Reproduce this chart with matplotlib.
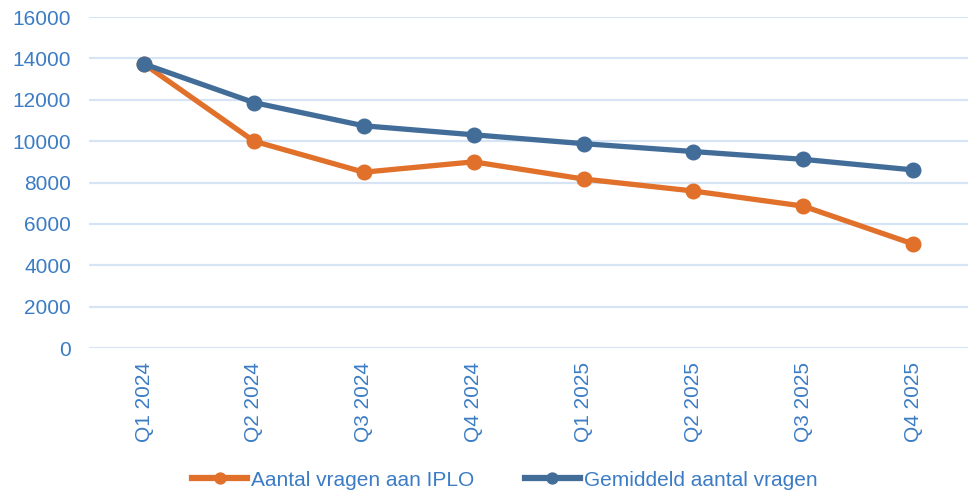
import matplotlib
matplotlib.use("Agg")
from matplotlib import pyplot as plt

quarters = ["Q1 2024", "Q2 2024", "Q3 2024", "Q4 2024",
            "Q1 2025", "Q2 2025", "Q3 2025", "Q4 2025"]
iplo_vragen = [13730, 10000, 8500, 9000, 8170, 7590, 6860, 5030]
gemiddeld = [13730, 11865, 10743, 10308, 9880, 9498, 9121, 8610]
y_ticks = [0, 2000, 4000, 6000, 8000, 10000, 12000, 14000, 16000]

orange = "#e0702a"
blue = "#436d99"
text_blue = "#3b7cc4"
grid_blue = "#d6e4f5"

plt.rcParams['font.family'] = ['Liberation Sans', 'DejaVu Sans']

fig = plt.figure(figsize=(9.69, 4.94), dpi=100)
ax = fig.add_axes([0.092, 0.2955, 0.907, 0.670])

x = range(len(quarters))
ax.plot(x, iplo_vragen, color=orange, lw=3.8, marker='o', markersize=10.5,
        label="Aantal vragen aan IPLO", zorder=3)
ax.plot(x, gemiddeld, color=blue, lw=3.8, marker='o', markersize=10.5,
        label="Gemiddeld aantal vragen", zorder=3)

ax.set_xlim(-0.5, len(quarters) - 0.5)
ax.set_ylim(0, 16000)
ax.set_yticks(y_ticks)
ax.set_yticklabels([str(v) for v in y_ticks])
ax.set_xticks(list(x))
ax.set_xticklabels(quarters, rotation=90)
ax.tick_params(axis='both', length=0, labelsize=15, labelcolor=text_blue)
ax.tick_params(axis='x', pad=10)
ax.tick_params(axis='y', pad=13)

ax.grid(axis='y', color=grid_blue, lw=1.6)
ax.set_axisbelow(True)
for s in ax.spines.values():
    s.set_visible(False)

leg = fig.legend(loc='center', bbox_to_anchor=(0.521, 0.028), ncol=2, frameon=False,
                 fontsize=15, handlelength=2.65, handletextpad=0.2, columnspacing=2.4,
                 markerscale=0.75)
for t in leg.get_texts():
    t.set_color(text_blue)
for h in leg.legend_handles:
    h.set_linewidth(4.5)

fig.savefig("out.png", dpi=100)
